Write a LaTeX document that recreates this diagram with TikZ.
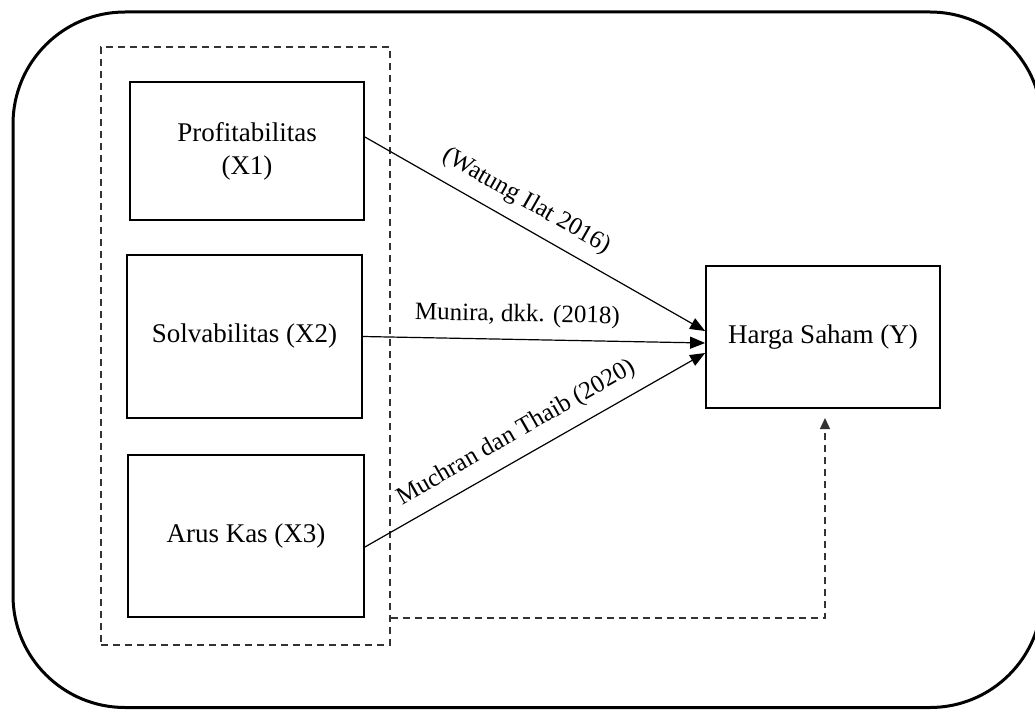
\documentclass[tikz,border=0pt]{standalone}
\usepackage{fontspec}
\setmainfont{Liberation Serif}
\usetikzlibrary{arrows.meta}
\begin{document}
\begin{tikzpicture}[x=1pt,y=-1pt,
  frameline/.style={line width=3pt, rounded corners=112pt},
  varbox/.style={draw, line width=1.8pt, align=center, inner sep=0pt,
    font=\fontsize{27}{33}\selectfont},
  groupbox/.style={draw=black!80, line width=1.2pt, dash pattern=on 7pt off 5pt,
    minimum width=289pt, minimum height=598pt, inner sep=0pt},
  link/.style={line width=1.2pt, -{Triangle[length=15pt,width=12pt]}},
  dlink/.style={draw=black!80, line width=1.3pt, dash pattern=on 7pt off 5pt,
    -{Triangle[length=11pt,width=10pt]}},
  lbl/.style={sloped, above=12pt, inner sep=0pt, font=\fontsize{25}{29}\selectfont}
]
\useasboundingbox (0,0) rectangle (1035,709);
\clip (0,0) rectangle (1035,709);
% outer frame
\draw[frameline] (13,12) rectangle (1042,707.5);
% group
\node[groupbox] (grp) at (245.5,346) {};
% variable boxes
\node[varbox, minimum width=234pt, minimum height=138pt] (x1) at (247,151) {Profitabilitas\\(X1)};
\node[varbox, minimum width=235pt, minimum height=163pt] (x2) at (244.5,336.5) {Solvabilitas (X2)};
\node[varbox, minimum width=236pt, minimum height=162pt] (x3) at (246,536) {Arus Kas (X3)};
\node[varbox, minimum width=234pt, minimum height=142pt] (y) at (823,337) {Harga Saham (Y)};
% links
\draw[link] ([yshift=14pt]x1.east) -- node[lbl, pos=0.44] {(Watung Ilat 2016)} ([yshift=6pt]y.west);
\draw[link] (x2.east) -- node[lbl, pos=0.45] {Munira, dkk. (2018)} ([yshift=-6pt]y.west);
\draw[link] ([yshift=-11pt]x3.east) -- node[lbl, pos=0.48] {Muchran dan Thaib (2020)} ([yshift=-16pt]y.west);
% dashed moderating link
\coordinate (corner) at (825,618);
\coordinate (tip) at (825,418);
\draw[dlink] (grp.east |- corner) -- (corner) -- (tip);
\end{tikzpicture}
\end{document}
